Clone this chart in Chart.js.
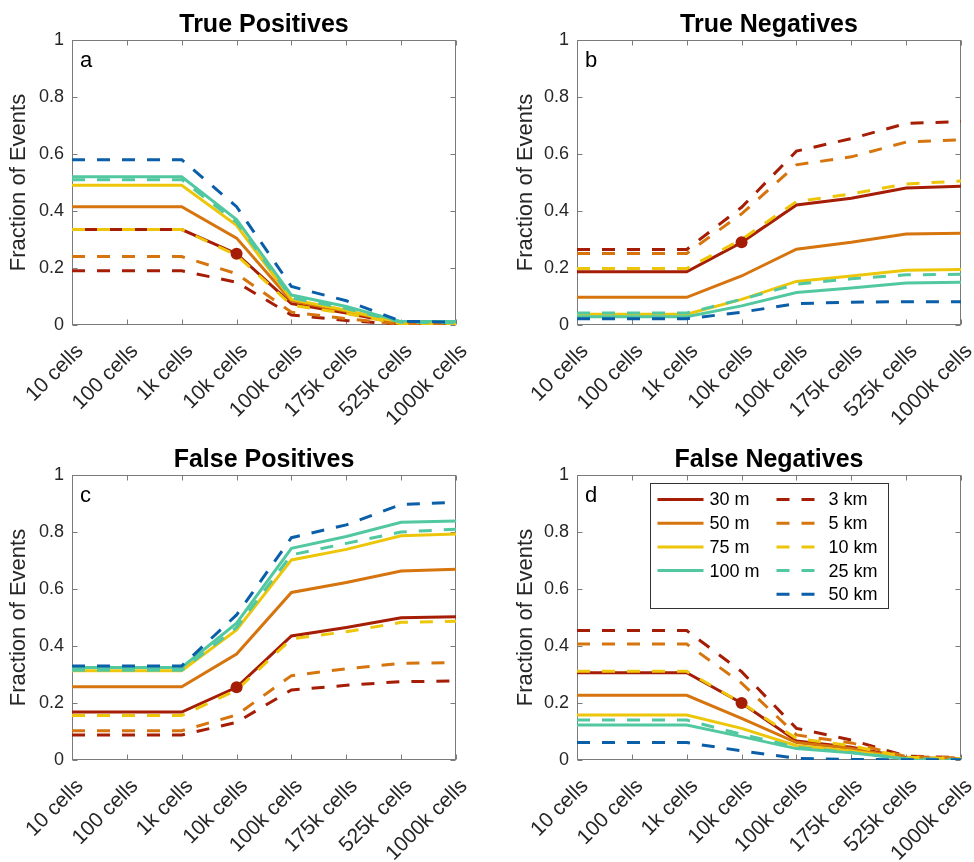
<!DOCTYPE html>
<html><head><meta charset="utf-8">
<script src="https://cdn.jsdelivr.net/npm/chart.js@4.4.0/dist/chart.umd.min.js"></script>
<style>
html,body{margin:0;padding:0;background:#fff;}
#wrap{position:relative;width:974px;height:862px;background:#fff;}
.p{position:absolute;width:487px;height:431px;}
canvas{display:block;}
</style></head><body>
<div id="wrap">
<div class="p" style="left:0;top:0"><canvas id="cA" width="487" height="431"></canvas></div>
<div class="p" style="left:487px;top:0"><canvas id="cB" width="487" height="431"></canvas></div>
<div class="p" style="left:0;top:431px"><canvas id="cC" width="487" height="431"></canvas></div>
<div class="p" style="left:487px;top:431px"><canvas id="cD" width="487" height="431"></canvas></div>
</div>
<script>
// ---- data ----
const categories = ['10 cells','100 cells','1k cells','10k cells','100k cells','175k cells','525k cells','1000k cells'];
const seriesLabels = ['30 m','50 m','75 m','100 m','3 km','5 km','10 km','25 km','50 km'];
const yTicks = [0, 0.2, 0.4, 0.6, 0.8, 1];
const panelTitles = ['True Positives','True Negatives','False Positives','False Negatives'];
const panelLetters = ['a','b','c','d'];
const markerCategory = '10k cells';
const markerValues = [0.25, 0.29, 0.255, 0.2];

// True Positives
const tpM30  = [0.335,0.335,0.335,0.25,0.075,0.042,0.004,0.002];
const tpM50  = [0.415,0.415,0.415,0.305,0.085,0.048,0.006,0.003];
const tpM75  = [0.49,0.49,0.49,0.35,0.09,0.052,0.008,0.005];
const tpM100 = [0.52,0.52,0.52,0.37,0.105,0.065,0.012,0.012];
const tpK3   = [0.19,0.19,0.19,0.15,0.035,0.016,0.002,0.001];
const tpK5   = [0.24,0.24,0.24,0.18,0.045,0.022,0.003,0.001];
const tpK10  = [0.335,0.335,0.335,0.245,0.07,0.04,0.004,0.002];
const tpK25  = [0.51,0.51,0.51,0.36,0.095,0.058,0.01,0.008];
const tpK50  = [0.58,0.58,0.58,0.415,0.135,0.085,0.013,0.01];
// True Negatives
const tnM30  = [0.187,0.187,0.187,0.29,0.421,0.445,0.481,0.487];
const tnM50  = [0.097,0.097,0.097,0.172,0.266,0.29,0.319,0.322];
const tnM75  = [0.038,0.038,0.038,0.09,0.153,0.172,0.192,0.195];
const tnM100 = [0.029,0.029,0.029,0.067,0.114,0.13,0.147,0.15];
const tnK3   = [0.265,0.265,0.265,0.413,0.61,0.654,0.707,0.714];
const tnK5   = [0.251,0.251,0.251,0.39,0.562,0.59,0.642,0.65];
const tnK10  = [0.198,0.198,0.198,0.3,0.433,0.46,0.495,0.505];
const tnK25  = [0.042,0.042,0.042,0.09,0.143,0.162,0.176,0.178];
const tnK50  = [0.022,0.022,0.022,0.045,0.075,0.08,0.082,0.082];
// False Positives
const fpM30  = [0.168,0.168,0.168,0.255,0.435,0.465,0.499,0.503];
const fpM50  = [0.257,0.257,0.257,0.372,0.588,0.623,0.663,0.669];
const fpM75  = [0.313,0.313,0.313,0.456,0.702,0.739,0.787,0.793];
const fpM100 = [0.325,0.325,0.325,0.48,0.743,0.784,0.834,0.839];
const fpK3   = [0.088,0.088,0.088,0.132,0.246,0.262,0.275,0.277];
const fpK5   = [0.103,0.103,0.103,0.158,0.296,0.32,0.339,0.342];
const fpK10  = [0.156,0.156,0.156,0.245,0.425,0.45,0.483,0.487];
const fpK25  = [0.315,0.315,0.315,0.465,0.72,0.76,0.80,0.81];
const fpK50  = [0.33,0.33,0.33,0.509,0.78,0.825,0.897,0.904];
// False Negatives
const fnM30  = [0.306,0.306,0.306,0.2,0.067,0.045,0.008,0.004];
const fnM50  = [0.227,0.227,0.227,0.146,0.061,0.04,0.006,0.003];
const fnM75  = [0.158,0.158,0.158,0.111,0.05,0.032,0.005,0.003];
const fnM100 = [0.123,0.123,0.123,0.082,0.04,0.025,0.004,0.002];
const fnK3   = [0.454,0.454,0.454,0.31,0.111,0.07,0.014,0.008];
const fnK5   = [0.407,0.407,0.407,0.27,0.088,0.06,0.012,0.007];
const fnK10  = [0.311,0.311,0.311,0.2,0.076,0.05,0.01,0.005];
const fnK25  = [0.14,0.14,0.14,0.09,0.045,0.026,0.004,0.002];
const fnK50  = [0.061,0.061,0.061,0.032,0.006,0.002,0.001,0.001];

// ---- styles ----
const RED = '#A51D05', ORANGE = '#D6740E', YELLOW = '#EDC60A', TEAL = '#52C8A0', BLUE = '#0B5EA8';
const seriesColors = [RED, ORANGE, YELLOW, TEAL, RED, ORANGE, YELLOW, TEAL, BLUE];
const seriesDashed = [false,false,false,false,true,true,true,true,true];
const FONT = "'Liberation Sans', Arial, Helvetica, sans-serif";
const TXT = '#262626';
Chart.defaults.font.family = FONT;

const boxPlugin = {
  id: 'box',
  beforeDatasetsDraw(chart) {
    const {ctx, chartArea: a, scales: {x, y}} = chart;
    ctx.save();
    ctx.strokeStyle = '#7a7a7a';
    ctx.lineWidth = 1;
    const L = Math.round(a.left) + 0.5, R = Math.round(a.right) - 0.5;
    const T = Math.round(a.top) + 0.5, B = Math.round(a.bottom) - 0.5;
    ctx.strokeRect(L, T, R - L, B - T);
    ctx.beginPath();
    x.ticks.forEach((t, i) => {
      const px = Math.round(x.getPixelForTick(i)) + 0.5;
      ctx.moveTo(px, B); ctx.lineTo(px, B - 5);
      ctx.moveTo(px, T); ctx.lineTo(px, T + 5);
    });
    y.ticks.forEach((t, i) => {
      const py = Math.round(y.getPixelForTick(i)) + 0.5;
      ctx.moveTo(L, py); ctx.lineTo(L + 5, py);
      ctx.moveTo(R, py); ctx.lineTo(R - 5, py);
    });
    ctx.stroke();
    ctx.restore();
  },
  afterDraw(chart, args, opts) {
    const {ctx, chartArea: a} = chart;
    ctx.save();
    ctx.fillStyle = '#000';
    ctx.font = 'bold 25px ' + FONT;
    ctx.textAlign = 'center';
    ctx.textBaseline = 'alphabetic';
    ctx.fillText(opts.title, (a.left + a.right) / 2, a.top - 8);
    ctx.font = '22px ' + FONT;
    ctx.textAlign = 'left';
    ctx.fillText(opts.letter, a.left + 8, a.top + 27);
    if (opts.legend) {
      const bx = Math.round(a.left + 73) + 0.5, by = Math.round(a.top + 8) + 0.5;
      const bw = 238, bh = 125;
      ctx.fillStyle = '#fff';
      ctx.fillRect(bx, by, bw, bh);
      ctx.strokeStyle = '#333';
      ctx.lineWidth = 1;
      ctx.strokeRect(bx, by, bw, bh);
      ctx.font = '18px ' + FONT;
      ctx.textBaseline = 'middle';
      const ds = chart.data.datasets.filter(d => d.label !== 'marker');
      let r1 = 0, r2 = 0;
      ds.forEach(d => {
        const dashed = d.borderDash && d.borderDash.length;
        const col = dashed ? 1 : 0;
        const row = dashed ? r2++ : r1++;
        const yy = by + 16 + row * 23.7;
        const x0 = bx + (col ? 126 : 7), x1 = x0 + 46;
        ctx.beginPath();
        ctx.strokeStyle = d.borderColor;
        ctx.lineWidth = 3;
        ctx.setLineDash(dashed ? d.borderDash : []);
        ctx.moveTo(x0, yy); ctx.lineTo(x1, yy);
        ctx.stroke();
        ctx.setLineDash([]);
        ctx.fillStyle = '#000';
        ctx.fillText(d.label, x1 + 6, yy + 1);
      });
    }
    ctx.restore();
  }
};

function makeChart(id, idx, series, geom) {
  const datasets = series.map((d, i) => ({
    label: seriesLabels[i],
    data: d,
    borderColor: seriesColors[i],
    backgroundColor: seriesColors[i],
    borderWidth: 3,
    borderDash: seriesDashed[i] ? [13, 12] : [],
    pointRadius: 0,
    tension: 0,
    fill: false,
    order: 20 - i
  }));
  datasets.push({
    label: 'marker',
    data: [{x: markerCategory, y: markerValues[idx]}],
    showLine: false,
    pointRadius: 6,
    pointBackgroundColor: RED,
    pointBorderColor: RED,
    pointBorderWidth: 0,
    order: 0
  });
  return new Chart(document.getElementById(id), {
    type: 'line',
    data: {labels: categories, datasets},
    options: {
      responsive: false,
      animation: false,
      events: [],
      devicePixelRatio: 1,
      layout: {padding: {left: 0, top: geom.top, right: geom.right, bottom: 0}},
      plugins: {
        legend: {display: false},
        tooltip: {enabled: false},
        box: {title: panelTitles[idx], letter: panelLetters[idx], legend: !!geom.legend}
      },
      scales: {
        x: {
          type: 'category',
          offset: false,
          grid: {display: false, drawTicks: false},
          border: {display: false},
          ticks: {autoSkip: false, minRotation: 45, maxRotation: 45, padding: 14, labelOffset: 8, color: TXT, font: {size: 21}},
          afterFit(s) { s.height = geom.xh; s.paddingLeft = 0; s.paddingRight = 0; }
        },
        y: {
          min: 0, max: 1,
          grid: {display: false, drawTicks: false},
          border: {display: false},
          afterBuildTicks(s) { s.ticks = yTicks.map(v => ({value: v})); },
          ticks: {padding: 8, color: TXT, font: {size: 18}, callback: (v) => String(v)},
          title: {display: true, text: 'Fraction of Events', color: TXT, font: {size: 22}, padding: {top: geom.tp, bottom: 0}},
          afterFit(s) { s.width = geom.yw; s.paddingTop = 0; s.paddingBottom = 0; }
        }
      }
    },
    plugins: [boxPlugin]
  });
}

makeChart('cA', 0, [tpM30,tpM50,tpM75,tpM100,tpK3,tpK5,tpK10,tpK25,tpK50], {top: 40, right: 31, xh: 106, yw: 72, tp: 6});
makeChart('cB', 1, [tnM30,tnM50,tnM75,tnM100,tnK3,tnK5,tnK10,tnK25,tnK50], {top: 40, right: 13, xh: 106, yw: 90, tp: 26});
makeChart('cC', 2, [fpM30,fpM50,fpM75,fpM100,fpK3,fpK5,fpK10,fpK25,fpK50], {top: 44, right: 31, xh: 102, yw: 72, tp: 6});
makeChart('cD', 3, [fnM30,fnM50,fnM75,fnM100,fnK3,fnK5,fnK10,fnK25,fnK50], {top: 44, right: 13, xh: 102, yw: 90, tp: 26, legend: true});
</script>
</body></html>
